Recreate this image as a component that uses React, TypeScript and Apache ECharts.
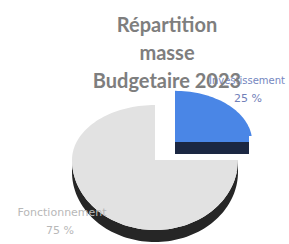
import React, { useEffect, useRef } from 'react';
import * as echarts from 'echarts';

const categories = ['Investissement', 'Fonctionnement'];
const values = [25, 75];
const titleLines = ['Répartition', 'masse', 'Budgetaire 2023'];

export default function App() {
  const ref = useRef<HTMLDivElement>(null);
  useEffect(() => {
    if (!ref.current) return;
    const chart = echarts.init(ref.current, null, { renderer: 'svg' });
    const total = values.reduce((a, b) => a + b, 0);
    const pct = values.map((v) => Math.round((v / total) * 100) + ' %');

    // layout of the 3D pie
    const base = { cx: 155, cy: 160, rx: 83, ryUp: 55, ryDown: 70, t: 12 };
    const explode = [
      { dx: 20, dy: -18, s: 0.93 },
      { dx: 0, dy: 0, s: 1 },
    ];
    const faceColors = ['#4a86e6', '#e2e2e2'];
    const wallColors = ['#1b2742', '#262626'];

    const renderItem = (params: any, api: any) => {
      const i = params.dataIndex;
      let before = 0;
      for (let k = 0; k < i; k++) before += values[k];
      const a0 = (before / total) * Math.PI * 2;
      const a1 = ((before + api.value(0)) / total) * Math.PI * 2;
      const e = explode[i];
      const cx = base.cx + e.dx;
      const cy = base.cy + e.dy;
      const proj = (a: number, dz = 0) => {
        const v = -Math.cos(a);
        const ry = v < 0 ? base.ryUp : base.ryDown;
        return [cx + e.s * base.rx * Math.sin(a), cy + v * e.s * ry + dz];
      };
      const arc = (s: number, en: number, dz = 0) => {
        const pts: number[][] = [];
        const n = Math.max(2, Math.ceil(((en - s) / (Math.PI * 2)) * 160));
        for (let j = 0; j <= n; j++) pts.push(proj(s + ((en - s) * j) / n, dz));
        return pts;
      };
      const children: any[] = [];
      [a0, a1].forEach((a) => {
        const p = proj(a);
        children.push({
          type: 'polygon',
          shape: { points: [[cx, cy], p, [p[0], p[1] + base.t], [cx, cy + base.t]] },
          style: { fill: wallColors[i] },
        });
      });
      const ws = Math.max(a0, Math.PI / 2);
      const we = Math.min(a1, (Math.PI * 3) / 2);
      if (we > ws) {
        const top = arc(ws, we);
        const bot = arc(ws, we, base.t).reverse();
        children.push({
          type: 'polygon',
          shape: { points: top.concat(bot) },
          style: { fill: wallColors[i] },
        });
      }
      children.push({
        type: 'polygon',
        shape: { points: [[cx, cy]].concat(arc(a0, a1)) },
        style: { fill: faceColors[i] },
      });
      return { type: 'group', children };
    };

    chart.setOption({
      animation: false,
      series: [
        {
          type: 'custom',
          coordinateSystem: 'none',
          renderItem,
          data: values.map((v, k) => ({ name: categories[k], value: [v] })),
        },
      ],
      graphic: [
        {
          type: 'rect',
          z: 50,
          shape: { x: 249, y: 136, width: 40, height: 28 },
          style: { fill: '#ffffff' },
        },
        {
          type: 'text',
          z: 60,
          x: 247,
          y: 80,
          style: {
            text: categories[0],
            fill: '#7486c0',
            font: '10px "DejaVu Sans"',
            textAlign: 'center',
            textVerticalAlign: 'middle',
          },
        },
        {
          type: 'text',
          z: 60,
          x: 248,
          y: 98,
          style: {
            text: pct[0],
            fill: '#7080b8',
            font: '11px "DejaVu Sans"',
            textAlign: 'center',
            textVerticalAlign: 'middle',
          },
        },
        {
          type: 'text',
          z: 60,
          x: 62,
          y: 212,
          style: {
            text: categories[1],
            fill: '#b8b8b8',
            font: '11px "DejaVu Sans"',
            textAlign: 'center',
            textVerticalAlign: 'middle',
          },
        },
        {
          type: 'text',
          z: 60,
          x: 60,
          y: 230,
          style: {
            text: pct[1],
            fill: '#b8b8b8',
            font: '11px "DejaVu Sans"',
            textAlign: 'center',
            textVerticalAlign: 'middle',
          },
        },
        {
          type: 'text',
          z: 80,
          x: 167,
          y: 10,
          style: {
            text: titleLines.join('\n'),
            fill: '#7e7e7e',
            font: 'bold 20px Lato',
            lineHeight: 28,
            textAlign: 'center',
            textVerticalAlign: 'top',
          },
        },
      ],
    });
    return () => chart.dispose();
  }, []);
  return (
    <div
      ref={ref}
      style={{ position: 'fixed', left: 0, top: 0, width: 289, height: 244, background: '#fff' }}
    />
  );
}
